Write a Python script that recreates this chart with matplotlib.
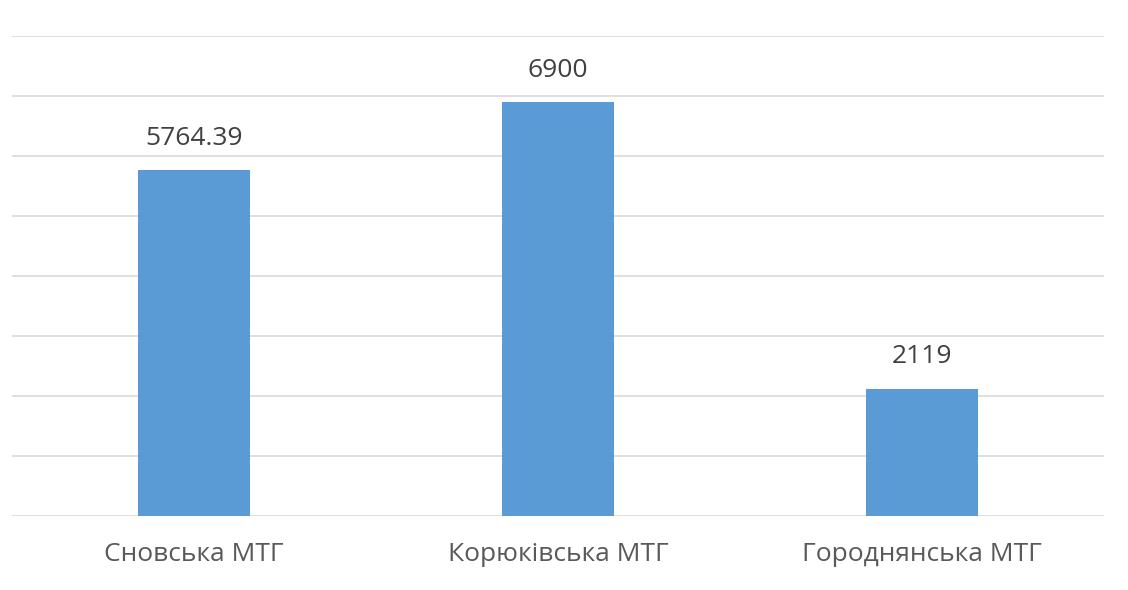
import matplotlib.pyplot as plt

categories = ['Сновська МТГ', 'Корюківська МТГ', 'Городнянська МТГ']
values = [5764.39, 6900, 2119]
value_labels = ['5764.39', '6900', '2119']

plt.rcParams['font.family'] = ['Open Sans', 'DejaVu Sans']

fig = plt.figure(figsize=(11.28, 5.90), dpi=100)
ax = fig.add_axes([12/1128, 74/590, 1092/1128, 480/590])

x = range(len(categories))
bars = ax.bar(x, values, width=0.31, color='#5B9BD5', zorder=3)

for b, lab in zip(bars, value_labels):
    ax.annotate(lab, (b.get_x() + b.get_width()/2, b.get_height()),
                xytext=(0, 14), textcoords='offset points',
                ha='center', va='bottom', fontsize=19, color='#404040')

ax.set_xlim(-0.5, 2.5)
ax.set_ylim(0, 8000)
ax.set_yticks(range(0, 8001, 1000))
ax.yaxis.grid(True, color='#D9D9D9', linewidth=1.2, zorder=0)
ax.tick_params(axis='y', left=False, labelleft=False)
ax.set_xticks(list(x))
ax.set_xticklabels(categories, fontsize=19, color='#595959')
ax.tick_params(axis='x', bottom=False, pad=15)
for s in ax.spines.values():
    s.set_visible(False)

fig.savefig('out.png', dpi=100)
